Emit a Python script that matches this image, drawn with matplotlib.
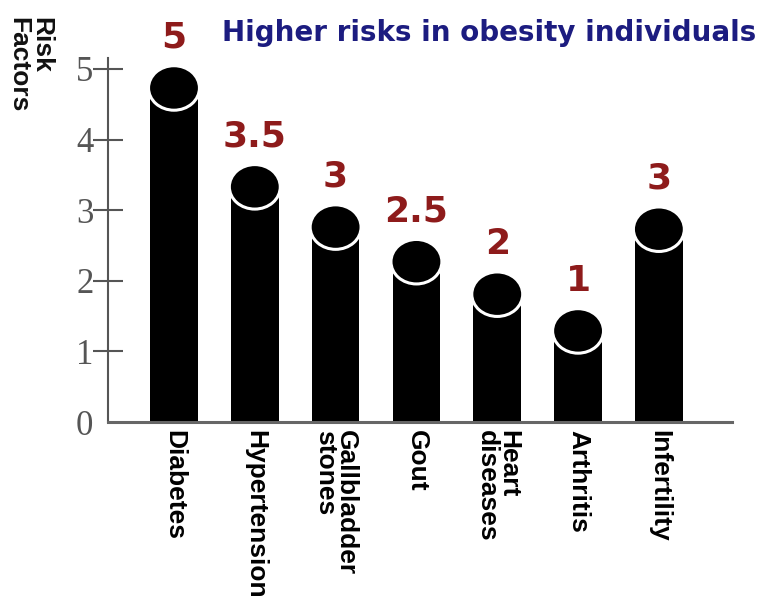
import matplotlib
matplotlib.use("Agg")
import matplotlib.pyplot as plt
from matplotlib.patches import Ellipse

categories = ["Diabetes", "Hypertension", "Gallbladder\nstones", "Gout",
              "Heart\ndiseases", "Arthritis", "Infertility"]
risk_labels = ["5", "3.5", "3", "2.5", "2", "1", "3"]
# height of each bar's round head (centre), as drawn in the picture
head_heights = [4.73, 3.33, 2.76, 2.27, 1.81, 1.29, 2.73]
yticks = [0, 1, 2, 3, 4, 5]

BAR_W = 0.59
HEAD_W, HEAD_H = 0.63, 0.63

fig = plt.figure(figsize=(7.69, 6.01), dpi=100)
ax = fig.add_axes([0.1404, 0.2978, 0.952 - 0.1404, 0.903 - 0.2978])

x = list(range(len(categories)))
ax.bar(x, head_heights, width=BAR_W, color="black", zorder=2)
for xi, h, lab in zip(x, head_heights, risk_labels):
    ax.add_patch(Ellipse((xi, h), HEAD_W, HEAD_H, facecolor="black",
                         edgecolor="white", lw=2.2, zorder=3))
    ax.annotate(lab, (xi, h + HEAD_H / 2), xytext=(0, 8), textcoords="offset points",
                ha="center", va="bottom", fontsize=26, fontweight="bold",
                color="#8e1b1b", family="DejaVu Sans")

ax.set_xlim(-0.817, 6.906)
ax.set_ylim(0, 5.15)

for side in ("top", "right"):
    ax.spines[side].set_visible(False)
ax.spines["left"].set_color("#555555")
ax.spines["left"].set_linewidth(1.5)
ax.spines["bottom"].set_color("#666666")
ax.spines["bottom"].set_linewidth(2.2)

ax.set_yticks(yticks)
ax.set_yticklabels([str(t) for t in yticks], family="Liberation Serif",
                   fontsize=25, color="#555555")
ax.tick_params(axis="y", direction="inout", length=21, width=1.5, color="#555555", pad=0)
ax.yaxis.get_major_ticks()[0].tick1line.set_visible(False)

ax.set_xticks(x)
ax.set_xticklabels(categories, rotation=-90, family="Liberation Sans", fontweight="bold",
                   fontsize=19, va="top", ha="center", linespacing=0.85,
                   multialignment="left")
ax.tick_params(axis="x", length=0, pad=6)

fig.text(0.289, 0.945, "Higher risks in obesity individuals", ha="left", va="center",
         fontsize=20, fontweight="bold", color="#1c1c80", family="DejaVu Sans")
fig.text(0.008, 0.972, "Risk\nFactors", rotation=-90, ha="left", va="top",
         fontsize=19, fontweight="bold", color="#111111", family="Liberation Sans",
         linespacing=0.95, multialignment="left")

fig.savefig("out.png", dpi=100)
